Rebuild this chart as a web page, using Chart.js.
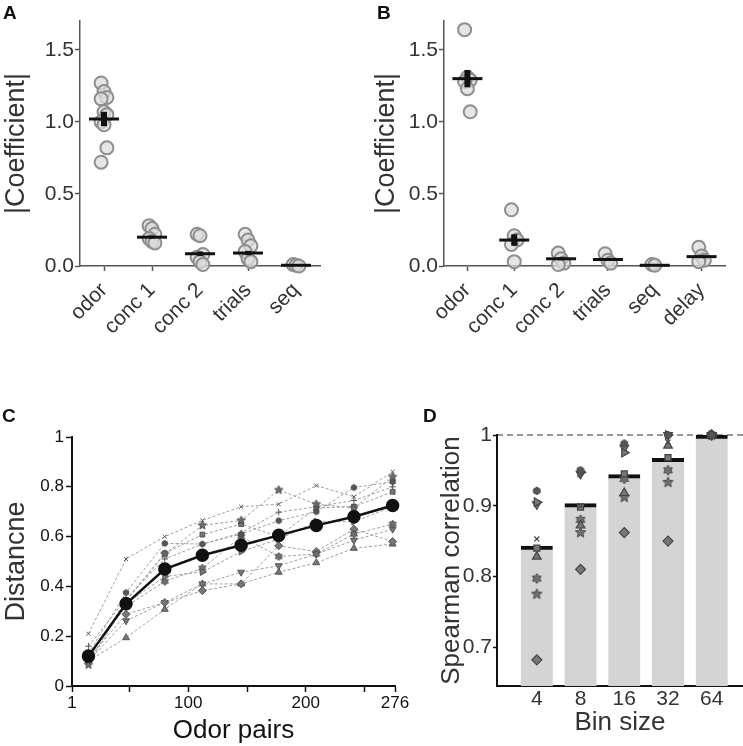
<!DOCTYPE html>
<html>
<head>
<meta charset="utf-8">
<script src="https://cdn.jsdelivr.net/npm/chart.js@4.4.0/dist/chart.umd.min.js"></script>
<style>
body { margin: 0; background: #fff; width: 743px; height: 746px; position: relative; overflow: hidden; font-family: "Liberation Sans", Arial, sans-serif; }
canvas { position: absolute; }
.tag { position: absolute; font-weight: bold; font-size: 19px; color: #111; line-height: 1; }
</style>
</head>
<body>
<canvas id="chart_a" width="370" height="365" style="left:0;top:0"></canvas>
<canvas id="chart_b" width="373" height="365" style="left:370px;top:0"></canvas>
<canvas id="chart_c" width="412" height="366" style="left:0;top:380px"></canvas>
<canvas id="chart_d" width="349" height="366" style="left:400px;top:380px"></canvas>
<div class="tag" style="left:3px;top:3px">A</div>
<div class="tag" style="left:377px;top:3px">B</div>
<div class="tag" style="left:2px;top:406px">C</div>
<div class="tag" style="left:423px;top:406px">D</div>
<script>
// ---- Panel A data
const catsA = ['odor', 'conc 1', 'conc 2', 'trials', 'seq'];
const pointsA = [
	[1.27, 1.21, 1.17, 1.16, 1.07, 1.05, 1.00, 0.98, 0.82, 0.72],
	[0.28, 0.26, 0.22, 0.19, 0.17, 0.16],
	[0.22, 0.21, 0.08, 0.06, 0.03, 0.01],
	[0.22, 0.18, 0.14, 0.10, 0.05, 0.03],
	[0.01, 0.005, 0.0]
];
const meansA = [1.02, 0.20, 0.085, 0.09, 0.005];
const semsA = [0.05, 0.01, 0.015, 0.015, 0.002];

// ---- Panel B data
const catsB = ['odor', 'conc 1', 'conc 2', 'trials', 'seq', 'delay'];
const pointsB = [
	[1.64, 1.31, 1.29, 1.28, 1.23, 1.07],
	[0.39, 0.21, 0.18, 0.15, 0.03],
	[0.09, 0.05, 0.02, 0.01],
	[0.085, 0.04, 0.02],
	[0.01, 0.005],
	[0.13, 0.07, 0.04, 0.03]
];
const meansB = [1.30, 0.18, 0.05, 0.045, 0.005, 0.065];
const semsB = [0.06, 0.04, 0.01, 0.005, 0.002, 0.01];

// ---- Panel C data
const pairCounts = [15, 47, 80, 112, 145, 177, 209, 241, 274];
const pairTicks = [1, 50, 100, 150, 200, 250, 276];
const pairTickLabels = [1, 100, 200, 276];
const meanDistance = [0.12, 0.33, 0.47, 0.525, 0.565, 0.605, 0.645, 0.68, 0.725];
const distCross = [0.21, 0.51, 0.60, 0.665, 0.72, 0.73, 0.805, 0.76, 0.86];
const distStar = [0.085, 0.34, 0.53, 0.645, 0.665, 0.787, 0.73, 0.715, 0.84];
const distDot = [0.13, 0.375, 0.573, 0.57, 0.61, 0.664, 0.70, 0.797, 0.82];
const distPlus = [0.16, 0.35, 0.51, 0.57, 0.615, 0.698, 0.72, 0.745, 0.80];
const distSquare = [0.11, 0.345, 0.533, 0.608, 0.65, 0.60, 0.716, 0.72, 0.78];
const distTriRight = [0.10, 0.33, 0.44, 0.458, 0.54, 0.59, 0.66, 0.66, 0.72];
const distHexagram = [0.12, 0.32, 0.42, 0.473, 0.60, 0.52, 0.53, 0.61, 0.65];
const distDiamond = [0.11, 0.288, 0.335, 0.383, 0.41, 0.563, 0.54, 0.63, 0.58];
const distTriDown = [0.10, 0.262, 0.335, 0.41, 0.457, 0.483, 0.53, 0.585, 0.63];
const distTriUp = [0.10, 0.194, 0.308, 0.41, 0.41, 0.457, 0.495, 0.553, 0.57];

// ---- Panel D data
const binSizes = ['4', '8', '16', '32', '64'];
const binMeans = [0.843, 0.903, 0.944, 0.967, 1.0];
const corrDot = [0.921, 0.95, 0.988, 1.0, 1.0];
const corrTriRight = [0.905, 0.947, 0.975, 1.0, 1.0];
const corrTriDown = [0.902, 0.945, 0.982, 1.0, 1.0];
const corrCross = [0.853, 0.90, 0.98, 0.99, 1.0];
const corrSquare = [0.84, 0.898, 0.945, 0.968, 1.0];
const corrTriUp = [0.828, 0.872, 0.918, 0.985, 1.0];
const corrHexagram = [0.797, 0.88, 0.938, 0.95, 1.0];
const corrStar = [0.775, 0.862, 0.912, 0.933, 1.0];
const corrDiamond = [0.682, 0.81, 0.862, 0.85, 1.0];

Chart.defaults.font.family = "'Liberation Sans', Arial, sans-serif";
Chart.defaults.animation = false;
Chart.defaults.plugins.legend.display = false;
Chart.defaults.plugins.tooltip.enabled = false;

//Small canvas markers for shapes chart.js has no point style for
function makeMarker(shape, r, fill, stroke) {
	const c = document.createElement('canvas');
	const s = Math.ceil(r * 2 + 4);
	c.width = s;
	c.height = s;
	const ctx = c.getContext('2d');
	ctx.translate(s / 2, s / 2);
	ctx.fillStyle = fill;
	ctx.strokeStyle = stroke;
	ctx.lineWidth = 1;
	ctx.beginPath();
	const n = shape == 'star' ? 5 : 6;
	const inner = shape == 'star' ? 0.45 : (shape == 'hexagram' ? 0.6 : 0.87);
	for (let i = 0; i < n * 2; i++) {
		const a = -Math.PI / 2 + i * Math.PI / n;
		const rr = i % 2 ? r * inner : r;
		ctx.lineTo(Math.cos(a) * rr, Math.sin(a) * rr);
	}
	ctx.closePath();
	ctx.fill();
	ctx.stroke();
	return c;
}

function markerStyles(r) {
	return {
		cross: { pointStyle: 'crossRot', pointRadius: r * 0.7, pointRotation: 0 },
		star: { pointStyle: makeMarker('star', r * 1.1, '#6f6f6f', '#4a4a4a'), pointRadius: r, pointRotation: 0 },
		dot: { pointStyle: makeMarker('hexagon', r * 0.75, '#555', '#444'), pointRadius: r, pointRotation: 0 },
		plus: { pointStyle: 'cross', pointRadius: r * 0.8, pointRotation: 0 },
		square: { pointStyle: 'rect', pointRadius: r * 0.85, pointRotation: 0 },
		triRight: { pointStyle: 'triangle', pointRadius: r, pointRotation: 90 },
		hexagram: { pointStyle: makeMarker('hexagram', r, '#6f6f6f', '#4a4a4a'), pointRadius: r, pointRotation: 0 },
		diamond: { pointStyle: 'rectRot', pointRadius: r, pointRotation: 0 },
		triDown: { pointStyle: 'triangle', pointRadius: r, pointRotation: 180 },
		triUp: { pointStyle: 'triangle', pointRadius: r, pointRotation: 0 }
	};
}

//"0" and "1" without decimals, the rest with one
const shortTick = v => (v === 0 || v === 1) ? String(v) : v.toFixed(1);

//Vertical black error bars drawn through the chart's scales
const errorBarPlugin = {
	id: 'errorBars',
	afterDatasetsDraw(chart, args, opts) {
		const ctx = chart.ctx;
		const x = chart.scales.x;
		const y = chart.scales.y;
		ctx.save();
		ctx.strokeStyle = '#111';
		ctx.lineWidth = opts.width;
		opts.means.forEach((m, i) => {
			const px = x.getPixelForValue(i);
			ctx.beginPath();
			ctx.moveTo(px, y.getPixelForValue(m - opts.sems[i]));
			ctx.lineTo(px, y.getPixelForValue(m + opts.sems[i]));
			ctx.stroke();
		});
		ctx.restore();
	}
};

//Dashed reference line at a y value
const refLinePlugin = {
	id: 'refLine',
	beforeDatasetsDraw(chart, args, opts) {
		const ctx = chart.ctx;
		const py = chart.scales.y.getPixelForValue(opts.value);
		ctx.save();
		ctx.strokeStyle = '#333';
		ctx.lineWidth = 1.2;
		ctx.setLineDash([6, 4]);
		ctx.beginPath();
		ctx.moveTo(chart.chartArea.left, py);
		ctx.lineTo(chart.width, py);
		ctx.stroke();
		ctx.restore();
	}
};

const jitter = j => ((j % 3) - 1) * 0.06;

function coefChart(id, cats, points, means, sems, axisWidth) {
	const circles = [];
	points.forEach((vals, i) => vals.forEach((v, j) => circles.push({ x: i + jitter(j), y: v })));
	return new Chart(document.getElementById(id), {
		type: 'scatter',
		data: {
			datasets: [{
				data: means.map((m, i) => ({ x: i, y: m })),
				pointStyle: 'line',
				pointRadius: 15,
				pointBorderWidth: 3,
				borderColor: '#111',
				clip: false
			}, {
				data: circles,
				pointRadius: 6.5,
				pointBorderWidth: 2,
				backgroundColor: 'rgba(220, 220, 220, 0.75)',
				borderColor: '#8e8e8e',
				clip: false
			}]
		},
		options: {
			responsive: false,
			layout: { padding: { top: 21, right: id == 'chart_a' ? 50 : 10 } },
			scales: {
				x: {
					type: 'linear',
					min: -0.5,
					max: cats.length - 0.5,
					afterBuildTicks: s => { s.ticks = cats.map((c, i) => ({ value: i })); },
					afterFit: s => { s.height = 99; },
					ticks: {
						autoSkip: false,
						minRotation: 45,
						maxRotation: 45,
						padding: 7,
						color: '#333',
						font: { size: 21 },
						callback: v => cats[v]
					},
					grid: { drawOnChartArea: false, tickLength: 5, tickColor: '#555', tickWidth: 1.5 },
					border: { color: '#555', width: 1.5 }
				},
				y: {
					min: 0,
					max: 1.7,
					afterBuildTicks: s => { s.ticks = [0, 0.5, 1, 1.5].map(v => ({ value: v })); },
					afterFit: s => { s.width = axisWidth; },
					ticks: {
						padding: 1,
						color: '#333',
						font: { size: 21 },
						callback: v => v.toFixed(1)
					},
					grid: { drawOnChartArea: false, tickLength: 5, tickColor: '#555', tickWidth: 1.5 },
					border: { color: '#555', width: 1.5 },
					title: { display: true, text: '|Coefficient|', color: '#333', font: { size: 27 }, padding: 0 }
				}
			},
			plugins: { errorBars: { means: means, sems: sems, width: 6 } }
		},
		plugins: [errorBarPlugin]
	});
}

coefChart('chart_a', catsA, pointsA, meansA, semsA, 80);
coefChart('chart_b', catsB, pointsB, meansB, semsB, 74);

// ---- Panel C
const stylesC = markerStyles(4);
const runsC = [
	[distCross, 'cross'], [distStar, 'star'], [distDot, 'dot'], [distPlus, 'plus'], [distSquare, 'square'],
	[distTriRight, 'triRight'], [distHexagram, 'hexagram'], [distDiamond, 'diamond'], [distTriDown, 'triDown'], [distTriUp, 'triUp']
];
const datasetsC = [{
	data: meanDistance.map((v, i) => ({ x: pairCounts[i], y: v })),
	borderColor: '#111',
	borderWidth: 2.5,
	pointRadius: 5.5,
	pointBackgroundColor: '#111',
	pointBorderColor: '#111',
	clip: false
}];
runsC.forEach(([vals, shape]) => {
	datasetsC.push(Object.assign({
		data: vals.map((v, i) => ({ x: pairCounts[i], y: v })),
		borderColor: '#a0a0a0',
		borderWidth: 1,
		borderDash: [3, 2],
		pointBackgroundColor: '#777',
		pointBorderColor: '#555',
		pointBorderWidth: 1,
		clip: false
	}, stylesC[shape]));
});

new Chart(document.getElementById('chart_c'), {
	type: 'line',
	data: { datasets: datasetsC },
	options: {
		responsive: false,
		layout: { padding: { top: 57, right: 17 } },
		scales: {
			x: {
				type: 'linear',
				min: 1,
				max: 276,
				afterBuildTicks: s => { s.ticks = pairTicks.map(v => ({ value: v })); },
				afterFit: s => { s.height = 60; },
				ticks: {
					autoSkip: false,
					maxRotation: 0,
					padding: 1,
					color: '#111',
					font: { size: 17 },
					callback: v => pairTickLabels.includes(v) ? String(v) : ''
				},
				grid: { drawOnChartArea: false, tickLength: 6, tickColor: '#111', tickWidth: 1.5 },
				border: { color: '#111', width: 2 },
				title: { display: true, text: 'Odor pairs', color: '#111', font: { size: 26 }, padding: 0 }
			},
			y: {
				min: 0,
				max: 1,
				afterBuildTicks: s => { s.ticks = [0, 0.2, 0.4, 0.6, 0.8, 1].map(v => ({ value: v })); },
				afterFit: s => { s.width = 72; },
				ticks: { padding: 2, color: '#111', font: { size: 17 }, callback: shortTick },
				grid: { drawOnChartArea: false, tickLength: 6, tickColor: '#111', tickWidth: 1.5 },
				border: { color: '#111', width: 2 },
				title: { display: true, text: 'Distancne', color: '#333', font: { size: 27 }, padding: 0 }
			}
		}
	}
});

// ---- Panel D
const stylesD = markerStyles(5);
const runsD = [
	[corrDot, 'dot'], [corrTriRight, 'triRight'], [corrTriDown, 'triDown'], [corrCross, 'cross'], [corrSquare, 'square'],
	[corrTriUp, 'triUp'], [corrHexagram, 'hexagram'], [corrStar, 'star'], [corrDiamond, 'diamond']
];
const datasetsD = runsD.map(([vals, shape]) => Object.assign({
	type: 'scatter',
	data: vals.map((v, i) => ({ x: i, y: v })),
	pointBackgroundColor: '#777',
	pointBorderColor: '#444',
	pointBorderWidth: 1.2,
	clip: false
}, stylesD[shape]));
datasetsD.push({
	type: 'bar',
	data: binMeans.map((v, i) => ({ x: i, y: v })),
	backgroundColor: '#d4d4d4',
	borderColor: '#111',
	borderWidth: { top: 4, left: 0, right: 0, bottom: 0 },
	borderSkipped: false,
	barThickness: 32
});

new Chart(document.getElementById('chart_d'), {
	type: 'scatter',
	data: { datasets: datasetsD },
	options: {
		responsive: false,
		layout: { padding: { top: 55, right: 0 } },
		scales: {
			x: {
				type: 'linear',
				offset: false,
				min: -0.91,
				max: 4.71,
				afterBuildTicks: s => { s.ticks = binSizes.map((b, i) => ({ value: i })); },
				afterFit: s => { s.height = 60; },
				ticks: {
					autoSkip: false,
					maxRotation: 0,
					padding: 1,
					color: '#333',
					font: { size: 21 },
					callback: v => binSizes[v]
				},
				grid: { display: false, drawTicks: false, tickLength: 0, offset: false },
				border: { color: '#111', width: 2 },
				title: { display: true, text: 'Bin size', color: '#333', font: { size: 26 }, padding: { top: 0, bottom: 8 } }
			},
			y: {
				min: 0.645,
				max: 1,
				afterBuildTicks: s => { s.ticks = [0.7, 0.8, 0.9, 1].map(v => ({ value: v })); },
				afterFit: s => { s.width = 97; },
				ticks: { padding: 1, color: '#333', font: { size: 21 }, callback: shortTick },
				grid: { drawOnChartArea: false, tickLength: 4, tickColor: '#111', tickWidth: 1.5 },
				border: { color: '#111', width: 2 },
				title: { display: true, text: 'Spearman correlation', color: '#333', font: { size: 26 }, padding: { top: 36, bottom: 0 } }
			}
		},
		plugins: { refLine: { value: 1 } }
	},
	plugins: [refLinePlugin]
});
</script>
</body>
</html>
